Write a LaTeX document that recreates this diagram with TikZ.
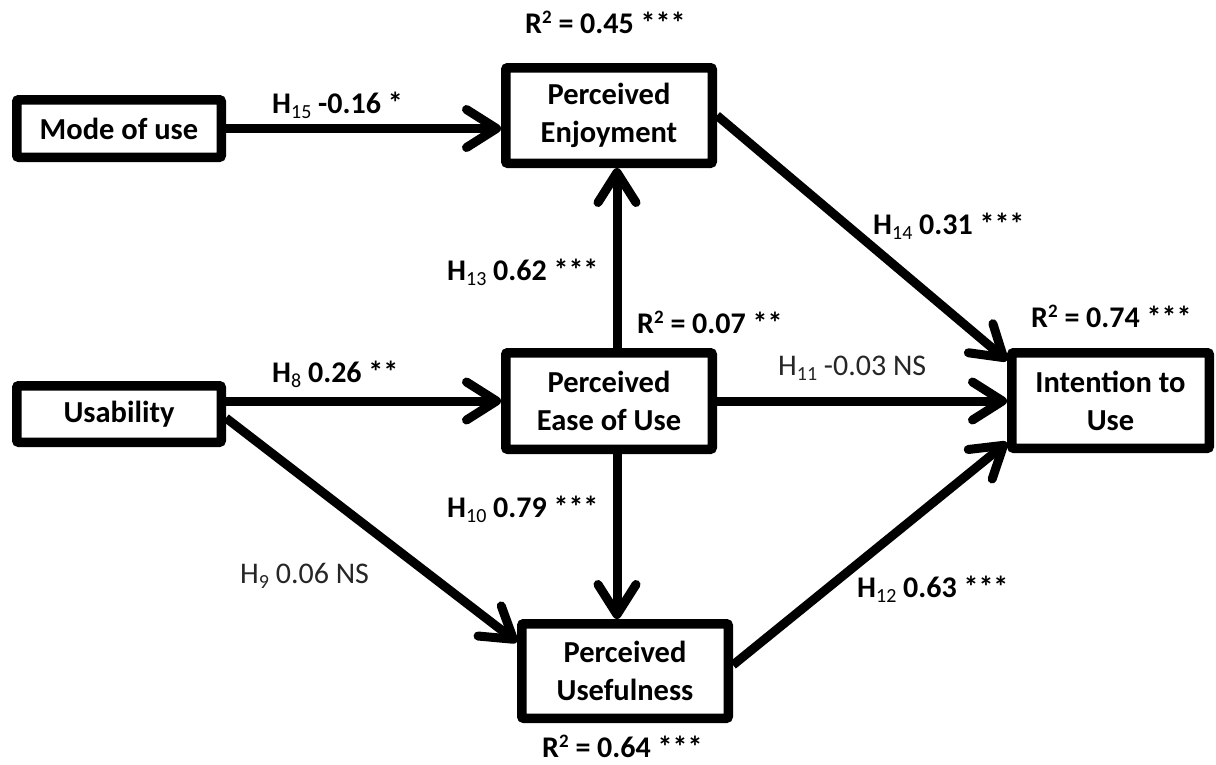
\documentclass[tikz,border=0pt]{standalone}
\usepackage{fontspec}
\setmainfont{Carlito}
\usetikzlibrary{arrows.meta}

% subscript of a hypothesis label and the square of R
\newcommand\hsub[1]{\raisebox{-5pt}{\fontsize{20}{20}\selectfont\mdseries #1}}
\newcommand\rsq{R\raisebox{10pt}{\fontsize{19}{19}\selectfont 2}}

\begin{document}
\begin{tikzpicture}[x=1pt,y=-1pt,
  construct/.style={draw, line width=9.5pt, rounded corners=2pt, fill=white,
    font=\fontsize{30.5}{38}\selectfont\bfseries, align=center, inner sep=0pt},
  link/.style={line width=9pt, -{Straight Barb[length=30pt,width=38pt,round]}},
  sig/.style={font=\fontsize{30}{34}\selectfont\bfseries, anchor=base west, inner sep=0pt},
  ns/.style={font=\fontsize{30}{34}\selectfont, text=black!85, anchor=base west, inner sep=0pt}]

\useasboundingbox[fill=white] (0,0) rectangle (1216,764);

% constructs
\node[construct, minimum width=204.5pt, minimum height=57.5pt] (mode) at (119,128.5) {Mode of use};
\node[construct, minimum width=204.5pt, minimum height=56.5pt] (usab) at (119,414) {Usability};
\node[construct, minimum width=206.5pt, minimum height=95.5pt] (enj) at (609,115.5) {Perceived\\Enjoyment};
\node[construct, minimum width=206.5pt, minimum height=96.5pt] (peou) at (609,401) {Perceived\\Ease of Use};
\node[construct, minimum width=206.5pt, minimum height=94.5pt] (pu) at (625,671) {Perceived\\Usefulness};
\node[construct, minimum width=197.5pt, minimum height=95.5pt] (itu) at (1110.5,400.5) {Intention to\\Use};

% structural paths
\draw[link] (mode.east) -- (mode.east -| enj.west);
\draw[link] (usab.east |- peou.west) -- (peou.west);
\draw[link] ([yshift=-4pt]usab.east) -- ([yshift=29pt]pu.west);
\draw[link] ([xshift=8pt]peou.north) -- ([xshift=8pt]peou.north |- enj.south);
\draw[link] ([xshift=8pt]peou.south) -- ([xshift=8pt]peou.south |- pu.north);
\draw[link] (peou.east) -- (peou.east -| itu.west);
\draw[link] (enj.east) -- ([yshift=40pt]itu.west);
\draw[link] ([yshift=6pt]pu.east) -- ([yshift=-42pt]itu.west);

% path coefficients
\node[sig] (h15) at (272,113) {H\hsub{15} -0.16 *};
\node[sig] (h8)  at (272,382) {H\hsub{8} 0.26 **};
\node[ns]  (h9)  at (240,583) {H\hsub{9} 0.06 NS};
\node[sig] (h13) at (447,280) {H\hsub{13} 0.62 ***};
\node[sig] (h10) at (447,517) {H\hsub{10} 0.79 ***};
\node[ns]  (h11) at (778,375) {H\hsub{11} -0.03 NS};
\node[sig] (h14) at (873,234) {H\hsub{14} 0.31 ***};
\node[sig] (h12) at (857,597) {H\hsub{12} 0.63 ***};

% explained variance
\node[sig] (r1) at (525,33)  {\rsq{} = 0.45 ***};
\node[sig] (r2) at (637,333) {\rsq{} = 0.07 **};
\node[sig] (r3) at (1031,327) {\rsq{} = 0.74 ***};
\node[sig] (r4) at (542,757) {\rsq{} = 0.64 ***};
\end{tikzpicture}
\end{document}
